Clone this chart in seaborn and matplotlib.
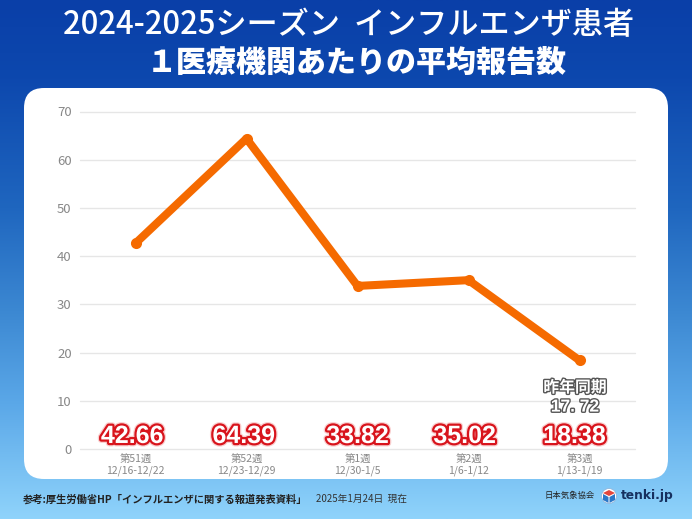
"""
plot.py
2024-2025 season influenza reports per medical institution.
"""

import numpy as np
import pandas as pd
import matplotlib
matplotlib.use("Agg")
import matplotlib.pyplot as plt
import matplotlib.patheffects as pe
from matplotlib.colors import LinearSegmentedColormap
from matplotlib.patches import FancyBboxPatch, Circle, Polygon
import seaborn as sns

WEEKS  = ["第51週", "第52週", "第1週", "第2週", "第3週"]
DATES  = ["12/16-12/22", "12/23-12/29", "12/30-1/5", "1/6-1/12", "1/13-1/19"]
VALUES = [42.66, 64.39, 33.82, 35.02, 18.38]
LAST_YEAR = "17. 72"
YTICKS = [0, 10, 20, 30, 40, 50, 60, 70]

TITLE1 = "2024-2025シーズン  インフルエンザ患者"
TITLE2 = "１医療機関あたりの平均報告数"
SOURCE = "参考:厚生労働省HP「インフルエンザに関する報道発表資料」"
DATE_NOTE = "2025年1月24日  現在"

W, H = 692, 519
sns.set_theme(style="white")
plt.rcParams["font.family"] = ["Noto Sans CJK JP", "DejaVu Sans"]

fig = plt.figure(figsize=(W / 100, H / 100), dpi=100)

# page background
bg = fig.add_axes([0, 0, 1, 1], zorder=0)
cmap = LinearSegmentedColormap.from_list(
    "page", [(0, "#0a3fa8"), (0.15, "#0d48ae"), (0.4, "#1f66bf"), (0.6, "#3c88d2"),
             (0.78, "#5ba8e8"), (1, "#8fd3fb")])
bg.imshow(np.linspace(0, 1, 256).reshape(-1, 1), cmap=cmap, aspect="auto", extent=[0, W, H, 0])
bg.set_xlim(0, W); bg.set_ylim(H, 0); bg.axis("off")
bg.add_patch(FancyBboxPatch((24 + 20, 88 + 20), 644 - 40, 391 - 40,
                            boxstyle="round,pad=20,rounding_size=20", fc="white", ec="none"))

bg.text(349, 25, TITLE1, color="white", fontsize=22.4, ha="center", va="center", fontweight="medium")
bg.text(356.5, 62, TITLE2, color="white", fontsize=21.6, ha="center", va="center", fontweight="black")
bg.text(23, 499, SOURCE, color="#222222", fontsize=7.4, ha="left", va="center", fontweight="bold")
bg.text(316, 499, DATE_NOTE, color="#333333", fontsize=7, ha="left", va="center")
bg.text(545, 495, "日本気象協会", color="#222222", fontsize=6, ha="left", va="center")
bg.text(621, 495, "tenki.jp", color="#16305f", fontsize=8.8, ha="left", va="center",
        fontweight="bold", family="DejaVu Sans")

# logo cube
bg.add_patch(Circle((609, 496), 7.5, fc="white", ec="#8fb6dc", lw=0.6))
bg.add_patch(Polygon([(609, 490), (615, 493), (609, 496), (603, 493)], fc="#e4473c", ec="none"))
bg.add_patch(Polygon([(603, 494), (608.5, 497), (608.5, 503), (603, 500)], fc="#2b78c8", ec="none"))
bg.add_patch(Polygon([(615, 494), (609.5, 497), (609.5, 503), (615, 500)], fc="#2b78c8", ec="none"))

# chart
ax = fig.add_axes([80 / W, (H - 449) / H, 555 / W, 337.5 / H], zorder=1)
ax.patch.set_alpha(0)
df = pd.DataFrame({"week": WEEKS, "value": VALUES})
sns.lineplot(data=df, x="week", y="value", sort=False, color="#f56a00", lw=5.8,
             marker="o", markersize=8, markeredgewidth=0, ax=ax, clip_on=False, zorder=3)
ax.set_xlim(-0.5, 4.5)
ax.set_ylim(0, 70)
ax.set_yticks(YTICKS)
ax.set_xticks(range(len(WEEKS)))
ax.set_xticklabels([f"{w}\n{d}" for w, d in zip(WEEKS, DATES)], fontsize=7.5, color="#888888", linespacing=1.0)
ax.tick_params(axis="y", labelsize=9.5, labelcolor="#888888", length=0, pad=6)
ax.tick_params(axis="x", length=0, pad=4.5)
ax.set_xlabel(""); ax.set_ylabel("")
ax.grid(axis="y", color="#e6e6e6", lw=1)
for line in ax.get_ygridlines():
    line.set_clip_on(False)
ax.set_axisbelow(True)
sns.despine(ax=ax, left=True, bottom=True)

# value labels along the bottom
red_outline = [pe.Stroke(linewidth=5, foreground="#f9cfcf"), pe.Stroke(linewidth=3.2, foreground="#d8141c"), pe.Normal()]
label_dx = [-0.03, -0.025, 0.0, -0.035, -0.045]
for i, v in enumerate(VALUES):
    ax.text(i + label_dx[i], 2.7, f"{v:.2f}", color="white", fontsize=18, fontweight="bold", ha="center",
            va="center", family="Liberation Sans", path_effects=red_outline, zorder=5)

grey_outline = [pe.withStroke(linewidth=2, foreground="#555555")]
ax.text(3.96, 12.8, "昨年同期", color="white", fontsize=11.4, fontweight="bold", ha="center", va="center",
        path_effects=grey_outline, zorder=5)
ax.text(3.96, 8.7, LAST_YEAR, color="white", fontsize=12.5, fontweight="bold", ha="center", va="center",
        family="Liberation Sans", path_effects=grey_outline, zorder=5)

fig.savefig("out.png", dpi=100)
